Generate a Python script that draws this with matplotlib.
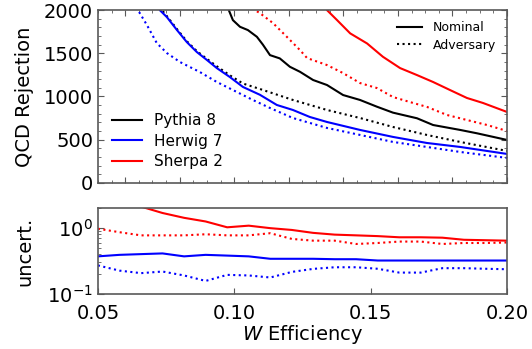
import matplotlib
matplotlib.use("Agg")
import matplotlib.pyplot as plt
from matplotlib.lines import Line2D
from matplotlib.ticker import MultipleLocator, LogLocator, NullFormatter

# ---- top panel: QCD rejection vs W efficiency ----
pythia_nom_x = [0.0975, 0.0980, 0.0995, 0.1021, 0.1050, 0.1083, 0.1105, 0.1131, 0.1167,
                0.1204, 0.1241, 0.1289, 0.1340, 0.1399, 0.1461, 0.1523, 0.1582, 0.1670,
                0.1729, 0.1828, 0.1890, 0.2000]
pythia_nom_y = [2100, 2000, 1884, 1807, 1769, 1691, 1600, 1479, 1441,
                1344, 1286, 1191, 1133, 1017, 960, 882, 813, 748,
                670, 613, 574, 497]

pythia_adv_x = [0.0720, 0.0727, 0.0753, 0.0790, 0.0826, 0.0863, 0.0900, 0.0936, 0.0984,
                0.1032, 0.1094, 0.1215, 0.1340, 0.1461, 0.1582, 0.1706, 0.1828, 0.2000]
pythia_adv_y = [2100, 2030, 1930, 1780, 1640, 1525, 1435, 1350, 1245,
                1150, 1087, 960, 844, 751, 647, 555, 474, 370]

herwig_nom_x = [0.0720, 0.0727, 0.0753, 0.0790, 0.0826, 0.0863, 0.0900, 0.0936, 0.0984,
                0.1032, 0.1094, 0.1156, 0.1215, 0.1277, 0.1340, 0.1461, 0.1582, 0.1706,
                0.1828, 0.2000]
herwig_nom_y = [2100, 2000, 1919, 1769, 1630, 1514, 1422, 1329, 1225,
                1110, 1020, 902, 844, 763, 705, 613, 532, 462,
                416, 335]

herwig_adv_x = [0.0640, 0.0647, 0.0680, 0.0716, 0.0753, 0.0801, 0.0874, 0.0936, 0.0995,
                0.1068, 0.1131, 0.1215, 0.1340, 0.1461, 0.1582, 0.1706, 0.1828, 0.2000]
herwig_adv_y = [2100, 2000, 1826, 1618, 1503, 1399, 1283, 1168, 1075,
                960, 867, 751, 636, 555, 474, 416, 358, 289]

sherpa_nom_x = [0.1330, 0.1340, 0.1377, 0.1425, 0.1487, 0.1545, 0.1608, 0.1670, 0.1729,
                0.1791, 0.1853, 0.1912, 0.2000]
sherpa_nom_y = [2100, 2000, 1884, 1731, 1614, 1460, 1329, 1248, 1168,
                1075, 983, 925, 821]

sherpa_adv_x = [0.1070, 0.1076, 0.1094, 0.1142, 0.1193, 0.1241, 0.1267, 0.1340, 0.1399,
                0.1461, 0.1523, 0.1582, 0.1644, 0.1707, 0.1780, 0.1853, 0.1927, 0.2000]
sherpa_adv_y = [2100, 2000, 1965, 1850, 1690, 1537, 1445, 1364, 1271,
                1156, 1098, 994, 936, 879, 786, 728, 670, 601]

# ---- bottom panel: uncertainty ----
unc_x = [0.0500, 0.0579, 0.0658, 0.0737, 0.0816, 0.0895, 0.0974, 0.1053, 0.1132, 0.1211,
         0.1289, 0.1368, 0.1447, 0.1526, 0.1605, 0.1684, 0.1763, 0.1842, 0.1921, 0.2000]
sherpa_nom_unc = [3.3, 2.6, 2.1, 1.68, 1.42, 1.25, 1.02, 1.08, 0.99, 0.93,
                  0.84, 0.79, 0.77, 0.75, 0.72, 0.72, 0.71, 0.66, 0.65, 0.64]
sherpa_adv_unc = [0.97, 0.86, 0.77, 0.77, 0.77, 0.80, 0.77, 0.77, 0.83, 0.68,
                  0.64, 0.64, 0.57, 0.59, 0.62, 0.62, 0.57, 0.59, 0.59, 0.60]
herwig_nom_unc = [0.37, 0.39, 0.40, 0.41, 0.37, 0.39, 0.38, 0.37, 0.34, 0.34,
                  0.34, 0.335, 0.335, 0.32, 0.32, 0.32, 0.32, 0.32, 0.32, 0.32]
herwig_adv_unc = [0.27, 0.225, 0.206, 0.218, 0.19, 0.157, 0.194, 0.19, 0.177, 0.215,
                  0.239, 0.253, 0.253, 0.24, 0.21, 0.21, 0.245, 0.245, 0.24, 0.236]

gen_labels = ["Pythia 8", "Herwig 7", "Sherpa 2"]
gen_colors = ["k", "b", "r"]

spine_col = "0.35"
lw = 1.5

fig = plt.figure(figsize=(5.32, 3.49), dpi=100)
ax = fig.add_axes([0.184, 0.476, 0.769, 0.495])
ax2 = fig.add_axes([0.184, 0.158, 0.769, 0.246])

ax.plot(pythia_nom_x, pythia_nom_y, color="k", lw=lw)
ax.plot(pythia_adv_x, pythia_adv_y, color="k", lw=lw, ls=":")
ax.plot(herwig_nom_x, herwig_nom_y, color="b", lw=lw)
ax.plot(herwig_adv_x, herwig_adv_y, color="b", lw=lw, ls=":")
ax.plot(sherpa_nom_x, sherpa_nom_y, color="r", lw=lw)
ax.plot(sherpa_adv_x, sherpa_adv_y, color="r", lw=lw, ls=":")

ax.set_xlim(0.05, 0.20)
ax.set_ylim(0, 2000)
ax.set_ylabel("QCD Rejection", fontsize=14)
ax.yaxis.set_major_locator(MultipleLocator(500))
ax.yaxis.set_minor_locator(MultipleLocator(100))
ax.xaxis.set_major_locator(MultipleLocator(0.02))
ax.xaxis.set_minor_locator(MultipleLocator(0.005))
ax.tick_params(which="both", direction="in", top=True, right=True,
               labelbottom=False, labelsize=14, color=spine_col)
ax.tick_params(which="major", length=4)
ax.tick_params(which="minor", length=2)

h1 = [Line2D([], [], color=c, lw=lw) for c in gen_colors]
leg1 = ax.legend(h1, gen_labels, loc="lower left", frameon=False,
                 fontsize=11, labelspacing=0.35)
ax.add_artist(leg1)
h2 = [Line2D([], [], color="k", lw=lw), Line2D([], [], color="k", lw=lw, ls=":")]
ax.legend(h2, ["Nominal", "Adversary"], loc="upper right", frameon=False,
          fontsize=9, labelspacing=0.35)

ax2.plot(unc_x, sherpa_nom_unc, color="r", lw=lw)
ax2.plot(unc_x, sherpa_adv_unc, color="r", lw=lw, ls=":")
ax2.plot(unc_x, herwig_nom_unc, color="b", lw=lw)
ax2.plot(unc_x, herwig_adv_unc, color="b", lw=lw, ls=":")
ax2.set_yscale("log")
ax2.set_xlim(0.05, 0.20)
ax2.set_ylim(0.1, 2.0)
ax2.set_xticks([0.05, 0.10, 0.15, 0.20])
ax2.set_xticklabels(["0.05", "0.10", "0.15", "0.20"])
ax2.yaxis.set_minor_locator(LogLocator(base=10, subs=range(2, 10)))
ax2.yaxis.set_minor_formatter(NullFormatter())
ax2.tick_params(which="both", direction="in", labelsize=14, color=spine_col)
ax2.tick_params(axis="x", pad=7)
ax2.tick_params(which="major", length=4)
ax2.tick_params(which="minor", length=2)
ax2.set_ylabel("uncert.", fontsize=14)
ax2.set_xlabel("$W$ Efficiency", fontsize=14, labelpad=0)

for a in (ax, ax2):
    for s in a.spines.values():
        s.set_color(spine_col)
        s.set_linewidth(1.2)

ax.yaxis.set_label_coords(-0.155, 0.5)
ax2.yaxis.set_label_coords(-0.155, 0.5)

fig.savefig("out.png", dpi=100)
